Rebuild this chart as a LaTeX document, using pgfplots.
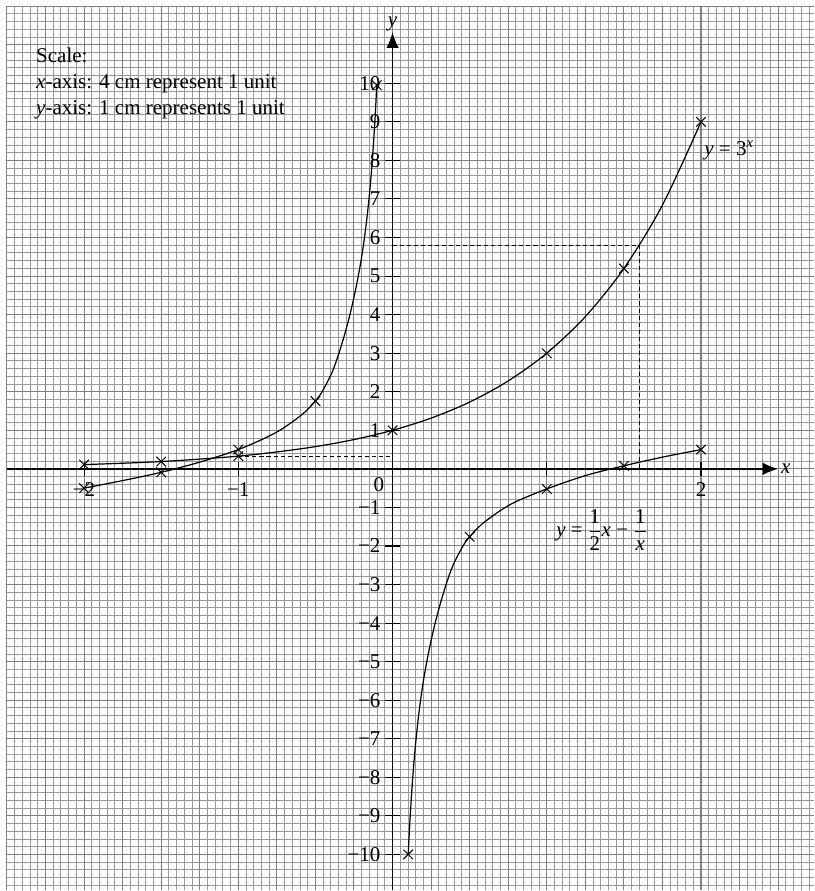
\documentclass[border=0pt]{standalone}
\usepackage{pgfplots}
\pgfplotsset{compat=1.18}
\usepackage{fontspec}
\setmainfont{Liberation Serif}
\usetikzlibrary{arrows.meta}
\definecolor{gridminor}{gray}{0.6}
\definecolor{gridmajor}{gray}{0.5}
\begin{document}
\begin{tikzpicture}[font=\fontsize{15.5}{18}\selectfont]
\begin{axis}[
  x=4cm, y=1cm,
  xmin=-2.5, xmax=2.73, ymin=-10.93, ymax=12,
  axis lines=middle,
  axis line style={draw=none},
  axis on top,
  xtick={-2,-1,1,2},
  xticklabels={−2,−1,,2},
  ytick={-10,-9,-8,-7,-6,-5,-4,-3,-2,-1,1,2,3,4,5,6,7,8,9,10},
  yticklabels={−10,−9,−8,−7,−6,−5,−4,−3,−2,−1,1,2,3,4,5,6,7,8,9,10},
  tick align=center,
  major tick length=0.38cm,
  tick style={black, line width=0.8pt},
  xticklabel style={anchor=north, inner sep=1pt, yshift=-0.12cm},
  yticklabel style={anchor=east, inner sep=1pt, xshift=-0.08cm},
  clip=false,
]
% graph-paper grid
\pgfplotsinvokeforeach{0,...,104}{%
  \pgfmathtruncatemacro\rem{mod(#1,5)}%
  \ifnum\rem>0\relax
  \draw[gridminor, line width=0.65pt] (axis cs:{-2.5+0.05*#1},-10.93) -- (axis cs:{-2.5+0.05*#1},12);
  \fi
}
\pgfplotsinvokeforeach{0,...,114}{%
  \pgfmathtruncatemacro\rem{mod(#1,5)}%
  \ifnum\rem>0\relax
  \draw[gridminor, line width=0.65pt] (axis cs:-2.5,{12-0.2*#1}) -- (axis cs:2.73,{12-0.2*#1});
  \fi
}
\pgfplotsinvokeforeach{0,...,20}{
  \draw[gridmajor, line width=0.75pt] (axis cs:{-2.5+0.25*#1},-10.93) -- (axis cs:{-2.5+0.25*#1},12);
}
\pgfplotsinvokeforeach{0,...,22}{
  \draw[gridmajor, line width=0.75pt] (axis cs:-2.5,{12-#1}) -- (axis cs:2.73,{12-#1});
}
% axes
\draw[black, line width=1pt, -{Latex[length=0.4cm,width=0.32cm]}] (axis cs:-2.5,0) -- (axis cs:2.5,0);
\draw[black, line width=1pt, -{Latex[length=0.4cm,width=0.32cm]}] (axis cs:0,-10.93) -- (axis cs:0,11.32);
\node[anchor=west, inner sep=2pt] at (axis cs:2.5,0) {\textit{x}};
\node[anchor=south, inner sep=1pt] at (axis cs:0,11.3) {\textit{y}};
\node at (axis cs:-0.088,-0.40) {0};

% dashed construction lines
\addplot[black, line width=0.7pt, dash pattern=on 3pt off 2.2pt] coordinates {(0,5.8) (1.6,5.8) (1.6,0)};
\addplot[black, line width=0.7pt, dash pattern=on 3pt off 2.2pt] coordinates {(-1,0.32) (0,0.32)};

% y = 3^x
\addplot[black, line width=0.9pt, smooth, no marks] coordinates {
  (-2,0.111) (-1.75,0.146) (-1.5,0.19) (-1.25,0.253) (-1,0.33) (-0.75,0.439) (-0.5,0.577)
  (-0.25,0.76) (0,1) (0.25,1.316) (0.5,1.732) (0.75,2.28) (1,3) (1.25,3.948) (1.5,5.196)
  (1.75,6.84) (2,9)};
\addplot[black, only marks, mark=x, mark size=5pt, mark options={line width=0.7pt}] coordinates {
  (-2,0.111) (-1.5,0.19) (-1,0.33) (0,1) (1,3) (1.5,5.196) (2,9)};

% y = x/2 - 1/x, left branch
\addplot[black, line width=0.9pt, smooth, no marks] coordinates {
  (-2,-0.5) (-1.75,-0.304) (-1.5,-0.09) (-1.25,0.175) (-1,0.5) (-0.8,0.85) (-0.7,1.079)
  (-0.6,1.367) (-0.55,1.543) (-0.5,1.76) (-0.4566,2) (-0.3922,2.5) (-0.3472,3)
  (-0.3096,3.5) (-0.2762,4) (-0.2475,4.5) (-0.2222,5) (-0.2,5.5) (-0.1818,6)
  (-0.1661,6.5) (-0.1527,7) (-0.1411,7.5) (-0.1312,8) (-0.1224,8.5) (-0.1147,9)
  (-0.1078,9.5) (-0.1023,9.95)};
\addplot[black, only marks, mark=x, mark size=5pt, mark options={line width=0.7pt}] coordinates {
  (-2,-0.5) (-1.5,-0.09) (-1,0.5) (-0.5,1.76) (-0.1023,9.95)};

% y = x/2 - 1/x, right branch
\addplot[black, line width=0.9pt, smooth, no marks] coordinates {
  (0.1015,-10) (0.1078,-9.5) (0.1147,-9) (0.1224,-8.5) (0.1312,-8) (0.1411,-7.5)
  (0.1527,-7) (0.1661,-6.5) (0.1818,-6) (0.2,-5.5) (0.2222,-5) (0.2475,-4.5)
  (0.2762,-4) (0.3096,-3.5) (0.3472,-3) (0.3922,-2.5) (0.4566,-2) (0.5,-1.76)
  (0.55,-1.543) (0.6,-1.367) (0.7,-1.079) (0.8,-0.85) (1,-0.52)
  (1.25,-0.175) (1.5,0.08) (1.75,0.304) (2,0.5)};
\addplot[black, only marks, mark=x, mark size=5pt, mark options={line width=0.7pt}] coordinates {
  (0.1015,-10) (0.5,-1.76) (1,-0.52) (1.5,0.08) (2,0.5)};

% labels
\node[anchor=west, inner sep=0pt] at (axis cs:2.02,8.26) {\textit{y} = 3\textsuperscript{\textit{x}}};
\node[anchor=west, inner sep=0pt] at (axis cs:1.06,-1.58)
  {\textit{y} = ${\displaystyle\frac{\mbox{1}}{\mbox{2}}}$\textit{x} − ${\displaystyle\frac{\mbox{1}}{\mbox{\textit{x}}}}$};

\node[anchor=base west, inner sep=0pt] at (axis cs:-2.312,10.54) {Scale:};
\node[anchor=base west, inner sep=0pt] at (axis cs:-2.312,9.86) {\textit{x}-axis: 4 cm represent 1 unit};
\node[anchor=base west, inner sep=0pt] at (axis cs:-2.312,9.19) {\textit{y}-axis: 1 cm represents 1 unit};
\end{axis}
\path ([xshift=-0.18cm]current axis.south west) rectangle ([yshift=0.16cm]current axis.north east);
\end{tikzpicture}
\end{document}
